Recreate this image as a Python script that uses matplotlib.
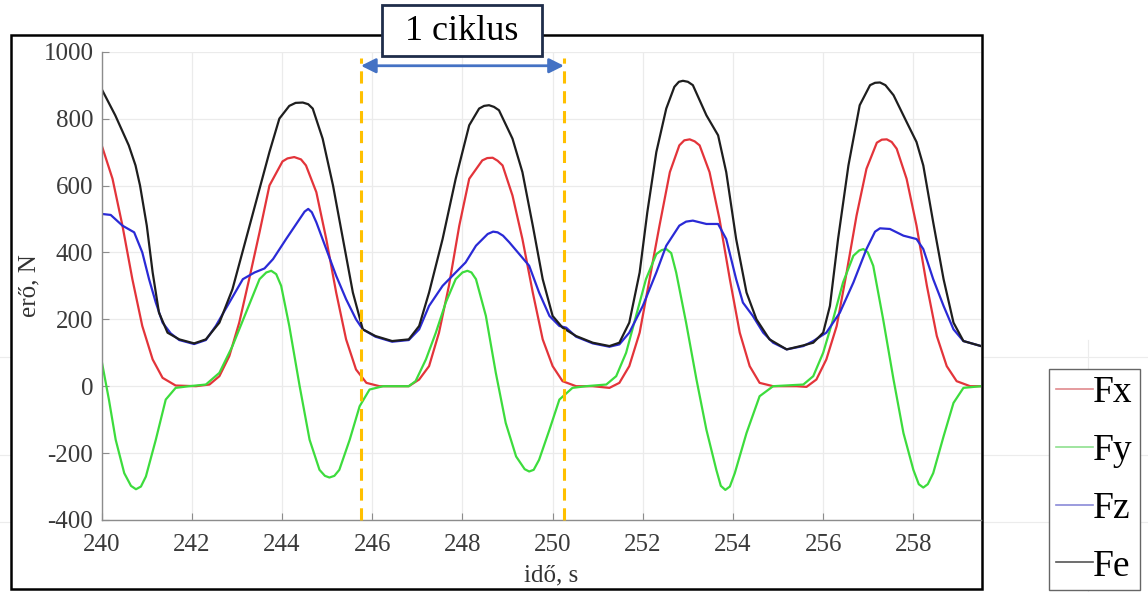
import matplotlib
matplotlib.use("Agg")
import matplotlib.pyplot as plt
from matplotlib.patches import Rectangle
from matplotlib.lines import Line2D

plt.rcParams["font.family"] = ["Liberation Serif", "DejaVu Serif"]
plt.rcParams["axes.unicode_minus"] = False

# ---- data ----
fx_t = [240.0, 240.24, 240.46, 240.68, 240.9, 241.13, 241.35, 241.64, 242.09, 242.39, 242.61,
        242.83, 243.05, 243.27, 243.5, 243.72, 244.01, 244.12, 244.27, 244.42, 244.53, 244.76,
        244.98, 245.2, 245.42, 245.64, 245.87, 246.16, 246.81, 247.04, 247.26, 247.48, 247.7,
        247.93, 248.15, 248.44, 248.55, 248.67, 248.78, 248.89, 249.11, 249.33, 249.56, 249.78,
        250.0, 250.22, 250.52, 250.89, 251.26, 251.48, 251.7, 251.93, 252.15, 252.37, 252.6,
        252.81, 252.92, 253.04, 253.15, 253.26, 253.48, 253.7, 253.93, 254.15, 254.37, 254.59,
        254.89, 255.41, 255.63, 255.85, 256.07, 256.3, 256.52, 256.74, 256.96, 257.19, 257.3,
        257.41, 257.52, 257.63, 257.85, 258.07, 258.3, 258.52, 258.74, 258.96, 259.26, 259.5]
fx_v = [720, 620, 480, 320, 180, 80, 25, 2, 0, 5, 30,
        90, 190, 320, 460, 600, 672, 681, 685, 678, 660, 580,
        440, 280, 140, 50, 10, 0, 0, 20, 60, 160, 300,
        480, 620, 675, 682, 683, 674, 660, 570, 440, 280, 140,
        60, 15, 0, 0, -5, 10, 60, 160, 320, 480, 640,
        720, 735, 738, 732, 720, 640, 500, 320, 160, 60, 10,
        0, 0, -2, 20, 80, 180, 340, 510, 650, 728, 737,
        738, 730, 710, 620, 480, 300, 150, 60, 15, 0, 0]

fy_t = [240.0, 240.16, 240.31, 240.5, 240.65, 240.76, 240.87, 240.98, 241.2, 241.42, 241.64,
        241.94, 242.31, 242.61, 242.9, 243.2, 243.5, 243.65, 243.76, 243.87, 243.98, 244.16,
        244.39, 244.61, 244.83, 244.95, 245.05, 245.16, 245.27, 245.5, 245.72, 245.94, 246.24,
        246.81, 246.96, 247.19, 247.41, 247.63, 247.85, 248.0, 248.11, 248.2, 248.3, 248.52,
        248.74, 248.96, 249.19, 249.38, 249.48, 249.58, 249.7, 249.93, 250.15, 250.44, 250.74,
        251.19, 251.41, 251.63, 251.85, 252.07, 252.3, 252.42, 252.52, 252.63, 252.74, 252.96,
        253.19, 253.41, 253.63, 253.73, 253.83, 253.93, 254.04, 254.3, 254.59, 254.89, 255.56,
        255.78, 256.0, 256.22, 256.44, 256.67, 256.8, 256.89, 256.99, 257.11, 257.33, 257.56,
        257.78, 258.0, 258.12, 258.22, 258.32, 258.44, 258.67, 258.89, 259.11, 259.5]
fy_v = [75, -40, -160, -260, -298, -308, -300, -270, -160, -40, -5,
        0, 5, 40, 120, 220, 320, 340, 345, 335, 300, 180,
        0, -160, -250, -268, -273, -268, -250, -160, -60, -10, 0,
        0, 15, 80, 160, 250, 320, 340, 345, 340, 320, 210,
        40, -110, -210, -248, -255, -250, -220, -130, -40, -5, 0,
        5, 30, 100, 210, 320, 395, 407, 410, 398, 340, 190,
        20, -130, -250, -298, -310, -300, -260, -140, -30, 0, 5,
        30, 100, 200, 310, 390, 406, 410, 400, 360, 200, 20,
        -140, -250, -293, -303, -293, -260, -150, -50, -5, 0]

fz_t = [240.0, 240.2, 240.46, 240.72, 240.9, 241.05, 241.2, 241.35, 241.53, 241.72, 242.05,
        242.31, 242.53, 242.83, 243.13, 243.39, 243.61, 243.8, 244.09, 244.39, 244.5, 244.58,
        244.66, 244.76, 244.98, 245.2, 245.42, 245.64, 245.79, 246.07, 246.44, 246.81, 247.04,
        247.26, 247.56, 247.85, 248.07, 248.3, 248.56, 248.68, 248.78, 248.9, 249.04, 249.26,
        249.48, 249.7, 249.93, 250.15, 250.3, 250.52, 250.89, 251.26, 251.48, 251.7, 252.0,
        252.3, 252.52, 252.81, 252.96, 253.11, 253.26, 253.41, 253.67, 253.85, 254.07, 254.22,
        254.44, 254.67, 254.89, 255.19, 255.56, 255.78, 256.07, 256.37, 256.67, 256.96, 257.15,
        257.26, 257.48, 257.78, 258.07, 258.22, 258.44, 258.67, 258.89, 259.11, 259.5]
fz_v = [515, 512, 480, 460, 400, 320, 250, 190, 158, 138, 126,
        138, 180, 250, 320, 340, 352, 380, 440, 500, 522, 530,
        520, 490, 410, 330, 260, 200, 170, 148, 133, 138, 170,
        240, 300, 340, 370, 420, 455, 462, 460, 450, 430, 395,
        360, 280, 210, 180, 175, 148, 128, 118, 125, 160, 240,
        340, 420, 480, 492, 495, 490, 485, 485, 440, 320, 250,
        210, 160, 130, 110, 120, 135, 160, 220, 310, 410, 462,
        472, 470, 450, 440, 410, 320, 240, 170, 135, 120]

fe_t = [240.0, 240.3, 240.6, 240.75, 240.85, 241.0, 241.13, 241.27, 241.46, 241.72, 242.05,
        242.31, 242.61, 242.9, 243.2, 243.5, 243.72, 243.94, 244.16, 244.3, 244.46, 244.58,
        244.68, 244.9, 245.13, 245.35, 245.57, 245.79, 246.07, 246.44, 246.81, 247.04, 247.26,
        247.56, 247.85, 248.15, 248.37, 248.48, 248.59, 248.7, 248.81, 249.11, 249.33, 249.56,
        249.78, 250.0, 250.22, 250.52, 250.89, 251.26, 251.48, 251.7, 251.93, 252.1, 252.3,
        252.52, 252.7, 252.8, 252.89, 253.0, 253.11, 253.41, 253.67, 253.85, 254.07, 254.3,
        254.52, 254.81, 255.19, 255.56, 255.78, 256.0, 256.15, 256.33, 256.56, 256.81, 257.04,
        257.15, 257.26, 257.38, 257.56, 257.85, 258.07, 258.22, 258.44, 258.67, 258.89, 259.11,
        259.5]
fe_v = [888, 810, 720, 660, 600, 480, 340, 220, 160, 140, 128,
        140, 190, 290, 440, 590, 700, 800, 838, 847, 848, 843,
        830, 740, 600, 440, 280, 170, 150, 135, 140, 180, 280,
        440, 620, 780, 830, 838, 840, 835, 825, 740, 640, 480,
        320, 210, 175, 150, 130, 120, 130, 190, 340, 520, 700,
        830, 895, 910, 913, 910, 900, 810, 750, 640, 440, 280,
        200, 140, 110, 122, 130, 160, 240, 440, 660, 840, 900,
        907, 908, 900, 870, 790, 730, 660, 490, 320, 190, 135,
        120]

series_names = ["Fx", "Fy", "Fz", "Fe"]
series_colors = ["#e3343a", "#3ddc3d", "#2a2ad6", "#1e1e1e"]
legend_colors = ["#e08a8e", "#8fe08f", "#8a8ad8", "#555555"]

cycle_start = 245.75
cycle_end = 250.25
x_ticks = [240, 242, 244, 246, 248, 250, 252, 254, 256, 258]
y_ticks = [-400, -200, 0, 200, 400, 600, 800, 1000]

W, H = 1148, 592


def fx_(px):
    return px / W


def fy_(py):
    return 1 - py / H


fig = plt.figure(figsize=(W / 100, H / 100), dpi=100)

# faint slide lines behind the picture
for py in [357, 455, 522]:
    fig.add_artist(Line2D([0, 1], [fy_(py), fy_(py)], color="#ececec", lw=0.8, zorder=0))
fig.add_artist(Line2D([fx_(1088), fx_(1088)], [fy_(340), 0], color="#ececec", lw=0.8, zorder=0))

# white framed area
fig.add_artist(Rectangle((fx_(11), fy_(589)), fx_(982) - fx_(11), fy_(35) - fy_(589),
                         transform=fig.transFigure, facecolor="white", edgecolor="black",
                         lw=1.8, zorder=1))

ax = fig.add_axes([fx_(101.7), fy_(520), fx_(981) - fx_(101.7), fy_(51.7) - fy_(520)])
ax.set_zorder(2)
ax.patch.set_alpha(0)

for t, v, c in zip([fx_t, fy_t, fz_t, fe_t], [fx_v, fy_v, fz_v, fe_v], series_colors):
    ax.plot(t, v, color=c, lw=1.6, solid_joinstyle="round")

ax.set_xlim(240, 259.5)
ax.set_ylim(-400, 1000)
ax.set_xticks(x_ticks)
ax.set_yticks(y_ticks)
ax.grid(True, color="#ebebeb", lw=0.9)
ax.set_axisbelow(True)
for s in ["top", "right"]:
    ax.spines[s].set_visible(False)
for s in ["left", "bottom"]:
    ax.spines[s].set_color("#8c8c8c")
    ax.spines[s].set_linewidth(1.0)
ax.tick_params(direction="in", length=5, color="#8c8c8c", labelsize=18,
               labelcolor="#3a3a3a")
ax.tick_params(axis="x", pad=10)
ax.tick_params(axis="y", pad=6)
ax.set_xlabel("idő, s", fontsize=18, color="#333333")
ax.xaxis.set_label_coords(0.511, -0.095)
ax.set_ylabel("erő, N", fontsize=18, color="#333333", labelpad=2)

# one cycle markers
ax.vlines([cycle_start, cycle_end], -400, 980, colors="#ffc000", lw=2.2,
          linestyles=(0, (4, 2.5)), clip_on=False, zorder=5)
ax.annotate("", xy=(cycle_start, 958), xytext=(cycle_end, 958),
            arrowprops=dict(arrowstyle="<|-|>", color="#4472c4", lw=2.0,
                            mutation_scale=22, shrinkA=0, shrinkB=0),
            annotation_clip=False, zorder=6)

# "1 ciklus" label box
fig.add_artist(Rectangle((fx_(382), fy_(56)), fx_(542) - fx_(382), fy_(5) - fy_(56),
                         transform=fig.transFigure, facecolor="white", edgecolor="#1f2d4a",
                         lw=2.0, zorder=10))
fig.text(fx_(462), fy_(31), "1 ciklus", fontsize=26, ha="center", va="center",
         color="black", zorder=11)

# legend partly cut off on the right
handles = [Line2D([], [], color=c, lw=1.2) for c in legend_colors]
leg = fig.legend(handles, series_names, loc="upper left",
                 bbox_to_anchor=(fx_(1049), fy_(369)), fontsize=27,
                 handlelength=1.0, handletextpad=0.0, labelspacing=0.62,
                 borderaxespad=0, borderpad=0.18, fancybox=False, frameon=True)
leg.get_frame().set_edgecolor("#666666")
leg.get_frame().set_linewidth(1.0)
leg.get_frame().set_alpha(1)

fig.savefig("out.png", dpi=100)
